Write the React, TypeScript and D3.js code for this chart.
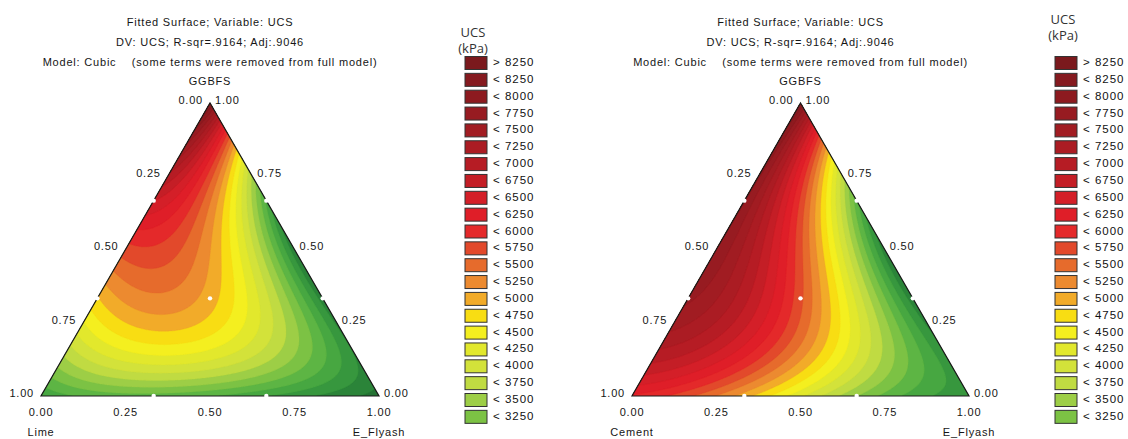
import React, { useMemo } from "react";
import * as d3 from "d3";

const WIDTH = 1128;
const HEIGHT = 439;

// ---------- Legend (shared by both panels) ----------
const legendLabels = [
  "> 8250", "< 8250", "< 8000", "< 7750", "< 7500", "< 7250", "< 7000", "< 6750",
  "< 6500", "< 6250", "< 6000", "< 5750", "< 5500", "< 5250", "< 5000", "< 4750",
  "< 4500", "< 4250", "< 4000", "< 3750", "< 3500", "< 3250",
];
const legendColors = [
  "#7b191d", "#851a1f", "#8d1a1f", "#971b21", "#a11c22", "#ab1c23", "#b61c24", "#c41e26",
  "#d41f28", "#df1e28", "#e4292a", "#e2492b", "#e66b2c", "#ec8a30", "#f2ab29", "#f8dd13",
  "#f4ef1f", "#e2e82c", "#d3e23a", "#c0db42", "#9dce46", "#7cc244",
];
// lower bound of each legend band, same order as the labels
const bandLowerBounds = [
  8250, 8000, 7750, 7500, 7250, 7000, 6750, 6500, 6250, 6000, 5750,
  5500, 5250, 5000, 4750, 4500, 4250, 4000, 3750, 3500, 3250, 3000,
];
// lower bands that are cut off from the legend but visible in the surfaces
const lowBandBounds = [2750, 2500, 2250, 2000, 1750];
const lowBandColors = ["#5db544", "#47a741", "#37973e", "#2b8439", "#247234"];
const baseBandColor = "#1d5e2e";

// ---------- Surfaces: UCS (kPa) read on a 1/6 simplex lattice ----------
// row i: GGBFS = i/6 ; entry j: E_Flyash = j/6 ; third component = 1 - GGBFS - E_Flyash
const limeChartUCS = [
  [2600, 2750, 2800, 2750, 2600, 2300, 1900],
  [3800, 4300, 4600, 4200, 3000, 2200],
  [4500, 5250, 4800, 3600, 2100],
  [5500, 5900, 4000, 2300],
  [6800, 5300, 3100],
  [7100, 4000],
  [8600],
];
const cementChartUCS = [
  [6050, 5750, 4600, 4100, 3400, 2900, 2200],
  [6700, 6500, 5750, 4500, 3200, 2400],
  [7750, 7000, 5800, 3400, 2200],
  [7800, 6750, 4400, 2300],
  [7500, 6100, 3000],
  [7700, 4200],
  [8600],
];

// design points (third component, E_Flyash, GGBFS)
const designPoints = [
  [2 / 3, 1 / 3, 0], [1 / 3, 2 / 3, 0],
  [2 / 3, 0, 1 / 3], [1 / 3, 0, 2 / 3],
  [0, 2 / 3, 1 / 3], [0, 1 / 3, 2 / 3],
  [1 / 3, 1 / 3, 1 / 3],
];

const axisTicks = [0, 0.25, 0.5, 0.75, 1];
const titleLines = [
  "Fitted Surface; Variable: UCS",
  "DV: UCS; R-sqr=.9164; Adj:.9046",
  "Model: Cubic    (some terms were removed from full model)",
];

const panels = [
  { left: 41, top: 103, w: 338, h: 293, rows: limeChartUCS, corner: "Lime", legendX: 465, legendTitleY: 37 },
  { left: 632, top: 103, w: 337, h: 293, rows: cementChartUCS, corner: "Cement", legendX: 1055, legendTitleY: 24 },
];

// ---------- Scheffé full cubic model ----------
function cubicTerms(a: number, b: number, c: number) {
  return [a, b, c, a * b, a * c, b * c, a * b * (a - b), a * c * (a - c), b * c * (b - c), a * b * c];
}

function fitSurface(rows: number[][]) {
  const n = rows.length - 1;
  const P = 10;
  const A = Array.from({ length: P }, () => new Array(P).fill(0));
  const r = new Array(P).fill(0);
  rows.forEach((row, i) =>
    row.forEach((v, j) => {
      const c = i / n, b = j / n, a = 1 - b - c;
      const t = cubicTerms(a, b, c);
      for (let p = 0; p < P; p++) {
        r[p] += t[p] * v;
        for (let q = 0; q < P; q++) A[p][q] += t[p] * t[q];
      }
    })
  );
  for (let k = 0; k < P; k++) {
    let piv = k;
    for (let m = k + 1; m < P; m++) if (Math.abs(A[m][k]) > Math.abs(A[piv][k])) piv = m;
    [A[k], A[piv]] = [A[piv], A[k]];
    [r[k], r[piv]] = [r[piv], r[k]];
    for (let m = k + 1; m < P; m++) {
      const f = A[m][k] / A[k][k];
      for (let q = k; q < P; q++) A[m][q] -= f * A[k][q];
      r[m] -= f * r[k];
    }
  }
  const x = new Array(P).fill(0);
  for (let k = P - 1; k >= 0; k--) {
    let s = r[k];
    for (let q = k + 1; q < P; q++) s -= A[k][q] * x[q];
    x[k] = s / A[k][k];
  }
  return x;
}

const txt: React.CSSProperties = {
  fontFamily: "'Liberation Sans', Arial, sans-serif",
  fontSize: 11,
  letterSpacing: 0.8,
  fill: "#161616",
};

function Panel({ p, idx }: { p: typeof panels[number]; idx: number }) {
  const { w, h } = p;
  const fmt = d3.format(".2f");
  const layers = useMemo(() => {
    const coef = fitSurface(p.rows);
    const nx = Math.round(w), ny = Math.round(h);
    const values = new Float64Array(nx * ny);
    for (let j = 0; j < ny; j++) {
      for (let i = 0; i < nx; i++) {
        const lx = ((i + 0.5) * w) / nx, ly = ((j + 0.5) * h) / ny;
        const c = 1 - ly / h;
        const b = lx / w - c / 2;
        const a = 1 - b - c;
        const t = cubicTerms(a, b, c);
        let v = 0;
        for (let k = 0; k < t.length; k++) v += coef[k] * t[k];
        values[j * nx + i] = v;
      }
    }
    const bounds = [...bandLowerBounds, ...lowBandBounds];
    const colors = [...legendColors, ...lowBandColors];
    const order = bounds.map((b, i) => ({ b, col: colors[i] })).sort((u, v) => u.b - v.b);
    const contours = d3.contours().size([nx, ny]).thresholds(order.map((o) => o.b))(Array.from(values));
    const gp = d3.geoPath(d3.geoTransform({
      point(x: number, y: number) { (this as any).stream.point((x * w) / nx, (y * h) / ny); },
    }));
    return contours.map((ct) => ({
      d: gp(ct as any) || "",
      col: order.find((o) => o.b === ct.value)!.col,
    }));
  }, [p]);

  // (flyash, ggbfs) -> local pixel
  const pos = (b: number, c: number) => [w * (b + c / 2), h * (1 - c)];
  const tri = `M0,${h}L${w},${h}L${w / 2},0Z`;
  const clipId = `tri-clip-${idx}`;

  return (
    <g>
      <g transform={`translate(${p.left},${p.top})`}>
        <defs>
          <clipPath id={clipId}><path d={tri} /></clipPath>
        </defs>
        <g clipPath={`url(#${clipId})`}>
          <path d={tri} fill={baseBandColor} />
          {layers.map((l, i) => <path key={i} d={l.d} fill={l.col} stroke={l.col} strokeWidth={0.3} />)}
        </g>
        <path d={tri} fill="none" stroke="#1a1a1a" strokeWidth={1.2} />
        {designPoints.map((dp, i) => {
          const [x, y] = pos(dp[1], dp[2]);
          return <circle key={i} cx={x} cy={y} r={2.2} fill="#fff" />;
        })}
        {/* left side: third component */}
        {axisTicks.map((t) => {
          const [x, y] = pos(0, t);
          return <text key={"l" + t} x={x - 7} y={y - 2} textAnchor="end" dominantBaseline="middle" style={txt}>{fmt(1 - t)}</text>;
        })}
        {/* right side: GGBFS */}
        {axisTicks.map((t) => {
          const [x, y] = pos(1 - t, t);
          return <text key={"r" + t} x={x + 5} y={y - 2} textAnchor="start" dominantBaseline="middle" style={txt}>{fmt(t)}</text>;
        })}
        {/* bottom: E_Flyash */}
        {axisTicks.map((t) => {
          const [x] = pos(t, 0);
          return <text key={"b" + t} x={x} y={h + 17} textAnchor="middle" dominantBaseline="middle" style={txt}>{fmt(t)}</text>;
        })}
        <text x={0} y={h + 37} textAnchor="middle" dominantBaseline="middle" style={txt}>{p.corner}</text>
        <text x={w} y={h + 37} textAnchor="middle" dominantBaseline="middle" style={txt}>E_Flyash</text>
        <text x={w / 2} y={-21} textAnchor="middle" dominantBaseline="middle" style={txt}>GGBFS</text>
        {titleLines.map((s, i) => (
          <text key={i} x={w / 2} y={-80 + i * 20} textAnchor="middle" dominantBaseline="middle" style={{ ...txt, whiteSpace: "pre" }}>{s}</text>
        ))}
      </g>
      {/* legend */}
      <g>
        <text x={p.legendX + 8} y={p.legendTitleY} textAnchor="middle" style={{ fontFamily: "'Open Sans', sans-serif", fontSize: 13, fill: "#333" }}>UCS</text>
        <text x={p.legendX + 8} y={p.legendTitleY + 16} textAnchor="middle" style={{ fontFamily: "'Open Sans', sans-serif", fontSize: 13, fill: "#333" }}>(kPa)</text>
        {legendLabels.map((lab, i) => {
          const yc = 63 + i * 16.85;
          return (
            <g key={lab + i}>
              <rect x={p.legendX} y={yc - 6.5} width={22} height={13} fill={legendColors[i]} stroke="#333" strokeWidth={1} />
              <text x={p.legendX + 28} y={yc} dominantBaseline="middle" style={{ ...txt, fontSize: 11.5, letterSpacing: 1, fill: "#111" }}>{lab}</text>
            </g>
          );
        })}
      </g>
    </g>
  );
}

export default function App() {
  return (
    <svg width={WIDTH} height={HEIGHT} style={{ position: "absolute", left: 0, top: 0, background: "#fff" }}>
      <rect width={WIDTH} height={HEIGHT} fill="#fff" />
      {panels.map((p, i) => <Panel key={i} p={p} idx={i} />)}
    </svg>
  );
}
